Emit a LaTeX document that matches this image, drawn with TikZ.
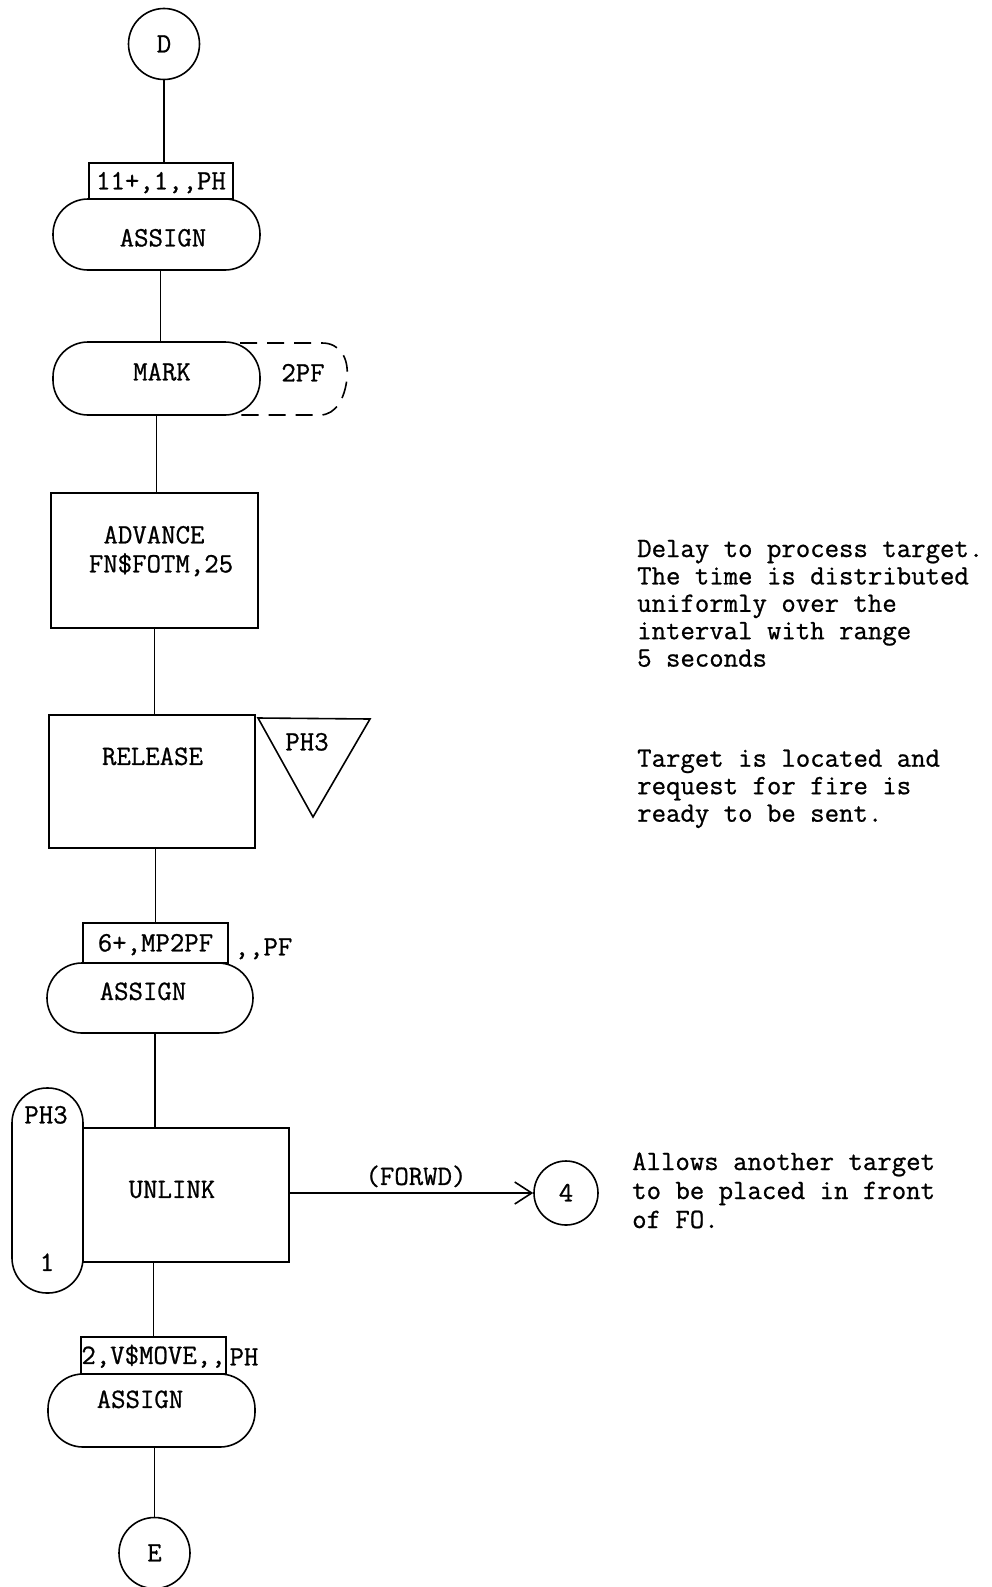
\documentclass[tikz,border=0pt]{standalone}
\usepackage{fontspec}
\newfontfamily\twfont{Latin Modern Mono}[FakeBold=0.8]
\usetikzlibrary{arrows.meta}
\begin{document}
\begin{tikzpicture}[x=1pt,y=-1pt,
  txt/.style={font=\twfont\fontsize{28}{28}\selectfont, inner sep=0pt, text height=16.8pt, text depth=0pt},
  blk/.style={draw, line width=1.6pt, inner sep=0pt, txt},
  stad/.style={blk, rounded corners=35pt},
  conn/.style={draw, line width=1.6pt},
  dashpat/.style={draw, line width=1.6pt, dash pattern=on 17pt off 10pt},
  note/.style={font=\twfont\fontsize{28}{28}\selectfont, inner sep=0pt, anchor=base west}]
\useasboundingbox[fill=white] (0,0) rectangle (992,1587);

% column of blocks
\node[blk, circle, minimum size=71pt] (D) at (164,44) {D};
\node[blk, minimum width=144pt, minimum height=36pt] (b1) at (161,181) {11+,1,,PH};
\node[stad, minimum width=207pt, minimum height=71pt] (a1) at (156.5,234.5) {};
\node[txt] (a1t) at (163,238) {ASSIGN};

\node[stad, minimum width=207pt, minimum height=73pt] (mk) at (156.5,378.5) {};
\node[txt] (mkt) at (162,372) {MARK};
\draw[dashpat] (240,343) -- (322,343) .. controls (340,343) and (349,358) .. (347,378) .. controls (345,398) and (336,415) .. (320,415) -- (238,415);
\node[txt] (pf) at (303,373) {2PF};

\node[blk, minimum width=207pt, minimum height=135pt] (adv) at (154.5,560.5) {};
\node[txt] (advt1) at (154,535) {ADVANCE};
\node[txt] (advt2) at (161,564) {FN\$FOTM,25};

\node[blk, minimum width=206pt, minimum height=133pt] (rel) at (152,781.5) {};
\node[txt] (relt) at (152.5,756.5) {RELEASE};
\draw[conn] (258,718) -- (370,719) -- (313,817) -- cycle;
\node[txt] (trit) at (307,742) {PH3};

\node[blk, minimum width=145pt, minimum height=40pt] (b2) at (155.5,943) {6+,MP2PF};
\node[txt] (b2o) at (263.5,947) {,,PF};
\node[stad, minimum width=206pt, minimum height=70pt] (a2) at (150,998) {};
\node[txt] (a2t) at (143,991.5) {ASSIGN};

\node[stad, minimum width=71pt, minimum height=205pt] (ph) at (47.5,1190.5) {};
\node[txt] (pht) at (46,1115) {PH3};
\node[txt] (phb) at (47,1262.5) {1};
\node[blk, minimum width=206pt, minimum height=134pt] (unl) at (186,1195) {};
\node[txt] (unlt) at (172,1189.5) {UNLINK};

\node[blk, circle, minimum size=64pt] (c4) at (566,1193) {4};
\node[txt] (fw) at (416,1176.5) {(FORWD)};

\node[blk, minimum width=145pt, minimum height=37pt] (b3) at (153.5,1355.5) {2,V\$MOVE,,};
\node[txt] (b3o) at (244,1357) {PH};
\node[stad, minimum width=207pt, minimum height=73pt] (a3) at (151.5,1410.5) {};
\node[txt] (a3t) at (140,1399.5) {ASSIGN};

\node[blk, circle, minimum size=71pt] (E) at (154.5,1553) {E};

% connectors
\draw[conn] (D.south) -- (D.south |- b1.north);
\draw[conn] ([xshift=4pt]a1.south) -- ([xshift=4pt]mk.north);
\draw[conn] (mk.south) -- (mk.south |- adv.north);
\draw[conn] (adv.south) -- (adv.south |- rel.north);
\draw[conn] (b2.north |- rel.south) -- (b2.north);
\draw[conn] ([xshift=5pt]a2.south) -- ([xshift=5pt]a2.south |- unl.north);
\draw[conn] (b3.north |- unl.south) -- (b3.north);
\draw[conn] (E.north |- a3.south) -- (E.north);
\draw[conn, -{Straight Barb[length=17pt,width=22pt]}] (c4.west -| unl.east) -- (c4.west);

% notes
\node[note] (n1) at (637,557) {Delay to process target.};
\node[note] (n2) at (637,584.4) {The time is distributed};
\node[note] (n3) at (637,611.8) {uniformly over the};
\node[note] (n4) at (637,639.2) {interval with range};
\node[note] (n5) at (637,666.6) {5 seconds};

\node[note] (m1) at (637,766.7) {Target is located and};
\node[note] (m2) at (637,794.2) {request for fire is};
\node[note] (m3) at (637,821.7) {ready to be sent.};

\node[note] (k1) at (632,1170) {Allows another target};
\node[note] (k2) at (632,1199) {to be placed in front};
\node[note] (k3) at (632,1228) {of FO.};
\end{tikzpicture}
\end{document}
